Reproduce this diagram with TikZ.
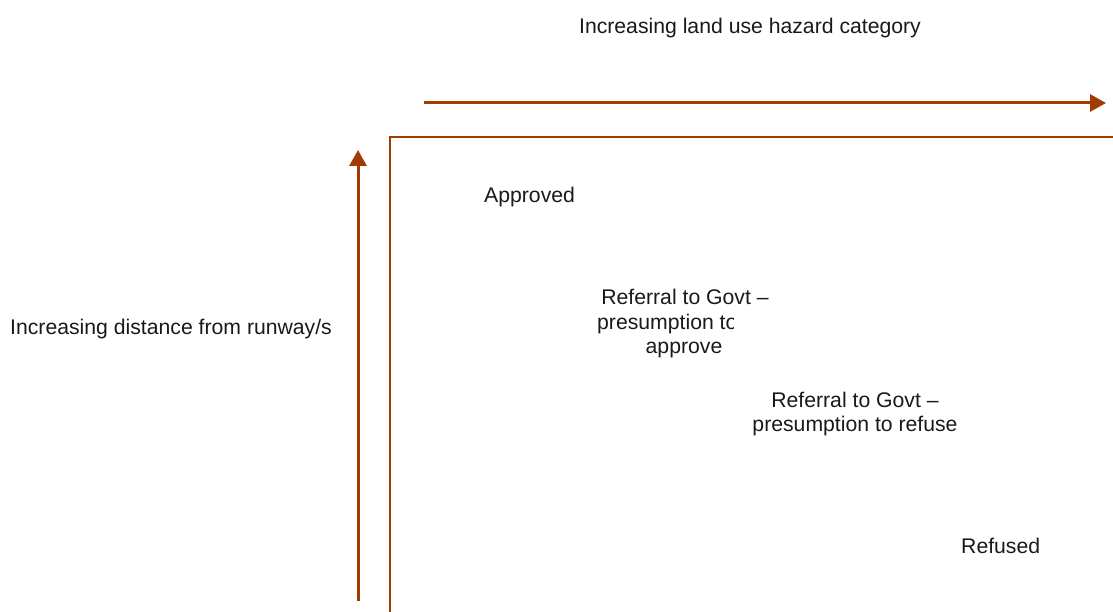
\documentclass[tikz,border=0pt]{standalone}
\usepackage{fontspec}
\setmainfont{Liberation Sans}
\usetikzlibrary{arrows.meta}
\definecolor{rust}{RGB}{162,58,4}
\begin{document}
\begin{tikzpicture}[x=1bp,y=-1bp,
  lbl/.style={inner sep=0pt,font=\fontsize{21.2bp}{24.5bp}\selectfont,text=black!90,text height=15bp,text depth=4bp},
  axisarrow/.style={draw=rust,line width=3bp,-{Triangle[length=16bp,width=17bp]}},
  frameline/.style={draw=rust,line width=2.2bp}]
\useasboundingbox (0,0) rectangle (1113,612);

% axis captions
\node[lbl] (hz) at (750,28) {Increasing land use hazard category};
\node[lbl,anchor=west] (dist) at (10,329) {Increasing distance from runway/s};

% axis arrows
\coordinate (hs) at (424,103);
\coordinate (he) at (1106,103);
\draw[axisarrow] (hs) -- (he);
\coordinate (vs) at (358,601);
\coordinate (ve) at (358,150);
\draw[axisarrow] (vs) -- (ve);

% frame of the decision matrix
\coordinate (fb) at (390,612);
\coordinate (fc) at (390,137);
\coordinate (fr) at (1113,137);
\draw[frameline] (fb) -- (fc) -- (fr);

% outcome zones
\node[lbl,anchor=west] (appr) at (484,197) {Approved};

% referral, presumption to approve (middle line cut off at the cell edge)
\node[lbl] (rga1) at (685,299) {Referral to Govt –};
\begin{scope}
  \clip (560,300) rectangle (733,340);
  \node[lbl,anchor=west] (rga2) at (597,324) {presumption to};
\end{scope}
\node[lbl] (rga3) at (684,348) {approve};

\node[lbl,align=center] (rgr) at (855,426) {Referral to Govt –\\presumption to refuse};
\node[lbl,anchor=west] (ref) at (961,548) {Refused};
\end{tikzpicture}
\end{document}
